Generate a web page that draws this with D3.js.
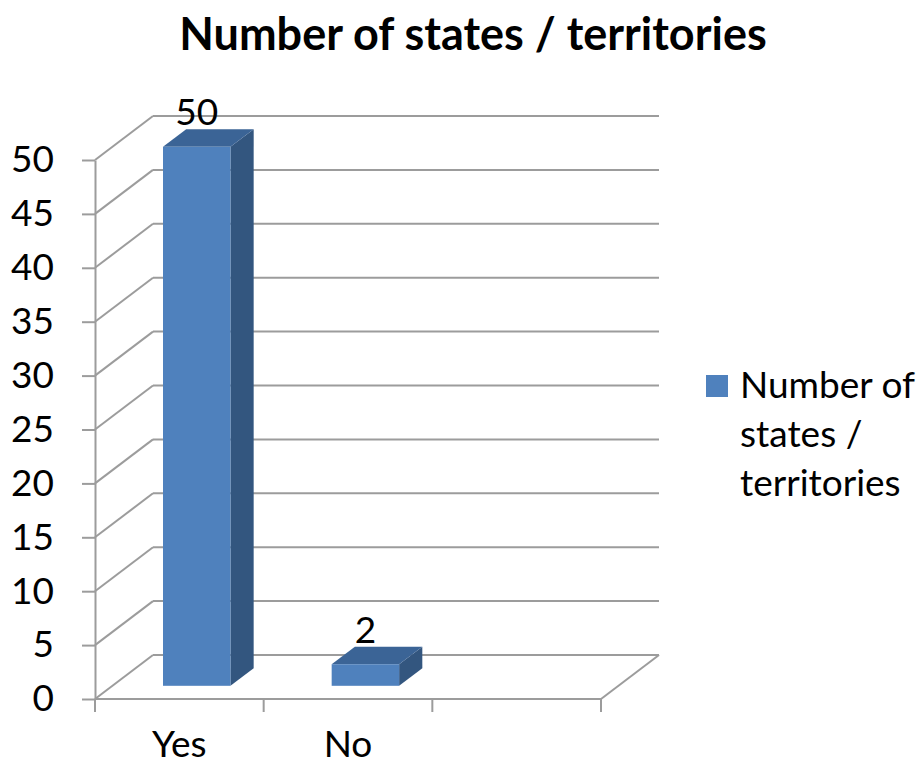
<!DOCTYPE html>
<html><head><meta charset="utf-8">
<script src="https://cdn.jsdelivr.net/npm/d3@7"></script>
<style>body{margin:0;background:#fff}svg{display:block}text{font-family:Lato,"Open Sans",sans-serif;fill:#000}</style>
</head><body>
<script>
const title = "Number of states / territories";
const categories = ["Yes", "No", ""];
const values = [50, 2, null];
const yTicks = [0, 5, 10, 15, 20, 25, 30, 35, 40, 45, 50];
const legendLines = ["Number of", "states /", "territories"];

const W = 921, H = 768;
const svg = d3.select("body").append("svg").attr("width", W).attr("height", H);
const DX = 58, DY = -44;
const grid = "#9C9C9C";
const fs = "37px";

const x = d3.scaleBand().domain(categories).range([95, 601]);
const y = d3.scaleLinear().domain([0, 50]).range([699, 160]);

svg.append("text").attr("x", 473).attr("y", 50).attr("text-anchor", "middle")
  .style("font-size", "45px").style("font-weight", "bold").text(title);

// walls
const g = svg.append("g").attr("stroke", grid).attr("stroke-width", 2).attr("fill", "none");
yTicks.forEach(t => {
  g.append("line").attr("x1", 95).attr("y1", y(t)).attr("x2", 95 + DX).attr("y2", y(t) + DY);
  g.append("line").attr("x1", 95 + DX).attr("y1", y(t) + DY).attr("x2", 601 + DX).attr("y2", y(t) + DY);
});
g.append("line").attr("x1", 601).attr("y1", y(0)).attr("x2", 601 + DX).attr("y2", y(0) + DY);
g.append("line").attr("x1", 95).attr("y1", y(0)).attr("x2", 601).attr("y2", y(0));
categories.forEach(c => {
  g.append("line").attr("x1", x(c) + x.bandwidth()).attr("y1", y(0)).attr("x2", x(c) + x.bandwidth()).attr("y2", y(0) + 13);
});
g.append("line").attr("x1", 95).attr("y1", y(0)).attr("x2", 95).attr("y2", y(0) + 13);

// y axis
const ya = svg.append("g").attr("transform", "translate(95,0)")
  .call(d3.axisLeft(y).tickValues(yTicks).tickSize(13).tickSizeOuter(0).tickPadding(28));
ya.select(".domain").attr("stroke", grid).attr("stroke-width", 2);
ya.selectAll(".tick line").attr("stroke", grid).attr("stroke-width", 2);
ya.selectAll(".tick text").style("font-size", fs).style("font-family", "Lato").attr("fill", "#000");

// x labels
const xa = svg.append("g").attr("transform", `translate(0,${y(0)})`)
  .call(d3.axisBottom(x).tickSize(0).tickPadding(32));
xa.select(".domain").remove();
xa.selectAll(".tick text").style("font-size", fs).style("font-family", "Lato").attr("fill", "#000");

// bars
const f0 = 0.3, f1 = 0.7;
const bw = x.bandwidth() * 0.4;
categories.forEach((c, i) => {
  const v = values[i];
  if (v == null) return;
  const bx = x(c) + x.bandwidth() / 2 - bw / 2;
  const x0 = bx + f0 * DX, x1 = bx + bw + f0 * DX;
  const yt = y(v) + f0 * DY, yb = y(0) + f0 * DY;
  const ex = (f1 - f0) * DX, ey = (f1 - f0) * DY;
  svg.append("polygon").attr("fill", "#33567F")
    .attr("points", [[x1, yt], [x1 + ex, yt + ey], [x1 + ex, yb + ey], [x1, yb]].join(" "));
  svg.append("polygon").attr("fill", "#3B6496")
    .attr("points", [[x0, yt], [x1, yt], [x1 + ex, yt + ey], [x0 + ex, yt + ey]].join(" "));
  svg.append("rect").attr("fill", "#4F81BD").attr("x", x0).attr("y", yt).attr("width", bw).attr("height", yb - yt);
  svg.append("text").attr("x", (x0 + x1) / 2).attr("y", yt + ey - 4).attr("text-anchor", "middle")
    .style("font-size", fs).text(v);
});

// legend
svg.append("rect").attr("x", 706).attr("y", 375).attr("width", 22).attr("height", 22).attr("fill", "#4F81BD");
legendLines.forEach((l, i) => {
  svg.append("text").attr("x", 740).attr("y", 398 + i * 49).style("font-size", fs).text(l);
});
</script>
</body></html>
